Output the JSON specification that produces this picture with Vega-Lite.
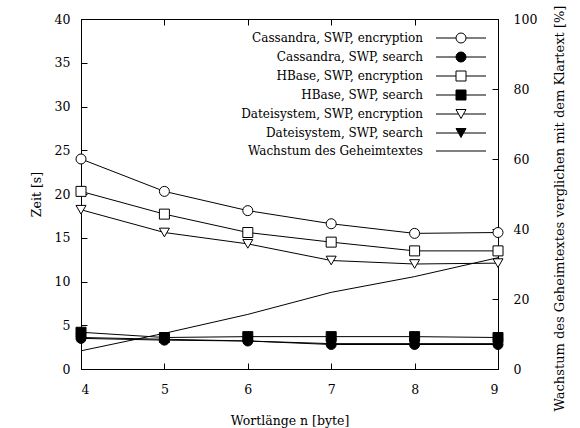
{
  "$schema": "https://vega.github.io/schema/vega-lite/v6.json",
  "width": 417,
  "height": 350,
  "autosize": {"type": "none"},
  "padding": {"left": 81, "top": 19, "right": 82, "bottom": 59},
  "background": "white",
  "config": {
    "font": "DejaVu Serif",
    "view": {"stroke": "black", "strokeWidth": 1},
    "axis": {
      "labelFont": "DejaVu Serif",
      "labelFontSize": 12.5,
      "labelColor": "black",
      "titleFont": "DejaVu Serif",
      "titleFontSize": 12.5,
      "titleFontWeight": "normal",
      "titleColor": "black",
      "domainColor": "black",
      "tickColor": "black",
      "grid": false,
      "tickSize": -6
    }
  },
  "data": {
    "values": [
      {"series": "Cassandra, SWP, encryption", "n": 4, "v": 24.0},
      {"series": "Cassandra, SWP, encryption", "n": 5, "v": 20.3},
      {"series": "Cassandra, SWP, encryption", "n": 6, "v": 18.1},
      {"series": "Cassandra, SWP, encryption", "n": 7, "v": 16.6},
      {"series": "Cassandra, SWP, encryption", "n": 8, "v": 15.5},
      {"series": "Cassandra, SWP, encryption", "n": 9, "v": 15.6},
      {"series": "Cassandra, SWP, search", "n": 4, "v": 3.5},
      {"series": "Cassandra, SWP, search", "n": 5, "v": 3.3},
      {"series": "Cassandra, SWP, search", "n": 6, "v": 3.2},
      {"series": "Cassandra, SWP, search", "n": 7, "v": 2.8},
      {"series": "Cassandra, SWP, search", "n": 8, "v": 2.8},
      {"series": "Cassandra, SWP, search", "n": 9, "v": 2.8},
      {"series": "HBase, SWP, encryption", "n": 4, "v": 20.3},
      {"series": "HBase, SWP, encryption", "n": 5, "v": 17.7},
      {"series": "HBase, SWP, encryption", "n": 6, "v": 15.6},
      {"series": "HBase, SWP, encryption", "n": 7, "v": 14.5},
      {"series": "HBase, SWP, encryption", "n": 8, "v": 13.5},
      {"series": "HBase, SWP, encryption", "n": 9, "v": 13.5},
      {"series": "HBase, SWP, search", "n": 4, "v": 4.2},
      {"series": "HBase, SWP, search", "n": 5, "v": 3.6},
      {"series": "HBase, SWP, search", "n": 6, "v": 3.7},
      {"series": "HBase, SWP, search", "n": 7, "v": 3.7},
      {"series": "HBase, SWP, search", "n": 8, "v": 3.7},
      {"series": "HBase, SWP, search", "n": 9, "v": 3.6},
      {"series": "Dateisystem, SWP, encryption", "n": 4, "v": 18.2},
      {"series": "Dateisystem, SWP, encryption", "n": 5, "v": 15.6},
      {"series": "Dateisystem, SWP, encryption", "n": 6, "v": 14.3},
      {"series": "Dateisystem, SWP, encryption", "n": 7, "v": 12.4},
      {"series": "Dateisystem, SWP, encryption", "n": 8, "v": 12.0},
      {"series": "Dateisystem, SWP, encryption", "n": 9, "v": 12.1},
      {"series": "Dateisystem, SWP, search", "n": 4, "v": 3.6},
      {"series": "Dateisystem, SWP, search", "n": 5, "v": 3.4},
      {"series": "Dateisystem, SWP, search", "n": 6, "v": 3.2},
      {"series": "Dateisystem, SWP, search", "n": 7, "v": 2.9},
      {"series": "Dateisystem, SWP, search", "n": 8, "v": 2.9},
      {"series": "Dateisystem, SWP, search", "n": 9, "v": 2.9},
      {"series": "Wachstum des Geheimtextes", "n": 4, "v": 5.2},
      {"series": "Wachstum des Geheimtextes", "n": 5, "v": 10.2},
      {"series": "Wachstum des Geheimtextes", "n": 6, "v": 15.6},
      {"series": "Wachstum des Geheimtextes", "n": 7, "v": 21.9},
      {"series": "Wachstum des Geheimtextes", "n": 8, "v": 26.4},
      {"series": "Wachstum des Geheimtextes", "n": 9, "v": 31.8}
    ]
  },
  "layer": [
    {
      "transform": [{"filter": "datum.series !== 'Wachstum des Geheimtextes'"}],
      "layer": [
        {
          "mark": {"type": "line", "color": "black", "strokeWidth": 1},
          "encoding": {
            "x": {"field": "n", "type": "quantitative", "scale": {"domain": [4, 9], "nice": false},
                  "axis": {"values": [4, 5, 6, 7, 8, 9], "format": "d", "labelPadding": 20, "title": "Wortlänge n [byte]", "titlePadding": 19}},
            "y": {"field": "v", "type": "quantitative", "scale": {"domain": [0, 40], "nice": false},
                  "axis": {"values": [0, 5, 10, 15, 20, 25, 30, 35, 40], "format": "d", "labelPadding": 17, "title": "Zeit [s]", "titlePadding": 11}},
            "detail": {"field": "series"}
          }
        },
        {
          "mark": {"type": "point", "filled": true, "stroke": "black", "strokeWidth": 1, "opacity": 1, "size": 100},
          "encoding": {
            "x": {"field": "n", "type": "quantitative"},
            "y": {"field": "v", "type": "quantitative"},
            "shape": {
              "field": "series", "type": "nominal",
              "scale": {
                "domain": ["Cassandra, SWP, encryption", "Cassandra, SWP, search", "HBase, SWP, encryption", "HBase, SWP, search", "Dateisystem, SWP, encryption", "Dateisystem, SWP, search", "Wachstum des Geheimtextes"],
                "range": ["circle", "circle", "square", "square", "triangle-down", "triangle-down", "circle"]
              },
              "legend": null
            },
            "fill": {
              "field": "series", "type": "nominal",
              "scale": {
                "domain": ["Cassandra, SWP, encryption", "Cassandra, SWP, search", "HBase, SWP, encryption", "HBase, SWP, search", "Dateisystem, SWP, encryption", "Dateisystem, SWP, search", "Wachstum des Geheimtextes"],
                "range": ["white", "black", "white", "black", "white", "black", "white"]
              },
              "legend": null
            }
          }
        },
        {
          "transform": [{"filter": "datum.n > 100"}],
          "mark": {"type": "point", "filled": true, "strokeWidth": 1, "opacity": 1, "size": 100},
          "encoding": {
            "x": {"field": "n", "type": "quantitative"},
            "y": {"field": "v", "type": "quantitative"},
            "shape": {
              "field": "series", "type": "nominal",
              "scale": {
                "domain": ["Cassandra, SWP, encryption", "Cassandra, SWP, search", "HBase, SWP, encryption", "HBase, SWP, search", "Dateisystem, SWP, encryption", "Dateisystem, SWP, search", "Wachstum des Geheimtextes"],
                "range": ["M-5,0H-1M1,0H5M1,0A1,1 0 1,1 -1,0A1,1 0 1,1 1,0Z", "M-5,0H-1M1,0H5M1,0A1,1 0 1,1 -1,0A1,1 0 1,1 1,0Z", "M-5,0H-1M1,0H5M-1,-1H1V1H-1Z", "M-5,0H-1M1,0H5M-1,-1H1V1H-1Z", "M-5,0H-0.5M0.5,0H5M-1,-0.9H1L0,0.9Z", "M-5,0H-0.5M0.5,0H5M-1,-0.9H1L0,0.9Z", "M-5,0H5"]
              },
              "legend": {
                "title": null, "orient": "none", "legendX": 374, "legendY": 13,
                "labelAlign": "right", "labelBaseline": "middle", "labelOffset": -44,
                "labelFont": "DejaVu Serif", "labelFontSize": 12, "labelColor": "black",
                "symbolSize": 100, "symbolStrokeWidth": 1, "symbolOpacity": 1,
                "rowPadding": 5, "labelLimit": 400
              }
            },
            "fill": {
              "field": "series", "type": "nominal",
              "scale": {
                "domain": ["Cassandra, SWP, encryption", "Cassandra, SWP, search", "HBase, SWP, encryption", "HBase, SWP, search", "Dateisystem, SWP, encryption", "Dateisystem, SWP, search", "Wachstum des Geheimtextes"],
                "range": ["white", "black", "white", "black", "white", "black", "white"]
              },
              "legend": {
                "title": null, "orient": "none", "legendX": 374, "legendY": 13,
                "labelAlign": "right", "labelBaseline": "middle", "labelOffset": -44,
                "labelFont": "DejaVu Serif", "labelFontSize": 12, "labelColor": "black",
                "symbolSize": 100, "symbolStrokeWidth": 1, "symbolOpacity": 1,
                "rowPadding": 5, "labelLimit": 400
              }
            },
            "stroke": {
              "field": "series", "type": "nominal",
              "scale": {
                "domain": ["Cassandra, SWP, encryption", "Cassandra, SWP, search", "HBase, SWP, encryption", "HBase, SWP, search", "Dateisystem, SWP, encryption", "Dateisystem, SWP, search", "Wachstum des Geheimtextes"],
                "range": ["black", "black", "black", "black", "black", "black", "black"]
              },
              "legend": {
                "title": null, "orient": "none", "legendX": 374, "legendY": 13,
                "labelAlign": "right", "labelBaseline": "middle", "labelOffset": -44,
                "labelFont": "DejaVu Serif", "labelFontSize": 12, "labelColor": "black",
                "symbolSize": 100, "symbolStrokeWidth": 1, "symbolOpacity": 1,
                "rowPadding": 5, "labelLimit": 400
              }
            }
          }
        }
      ],
      "resolve": {"scale": {"shape": "independent", "fill": "independent", "stroke": "independent"}}
    },
    {
      "transform": [{"filter": "datum.series === 'Wachstum des Geheimtextes'"}],
      "mark": {"type": "line", "color": "black", "strokeWidth": 1},
      "encoding": {
        "x": {"field": "n", "type": "quantitative", "scale": {"domain": [4, 9], "nice": false},
              "axis": {"orient": "top", "values": [4, 5, 6, 7, 8, 9], "labels": false, "title": null}},
        "y": {"field": "v", "type": "quantitative", "scale": {"domain": [0, 100], "nice": false},
              "axis": {"orient": "right", "values": [0, 20, 40, 60, 80, 100], "format": "d", "labelPadding": 21, "title": "Wachstum des Geheimtextes verglichen mit dem Klartext [%]", "titleFontSize": 13, "titleAngle": 270, "titleY": 189, "titlePadding": 30}}
      }
    }
  ],
  "resolve": {"scale": {"x": "independent", "y": "independent"}}
}
